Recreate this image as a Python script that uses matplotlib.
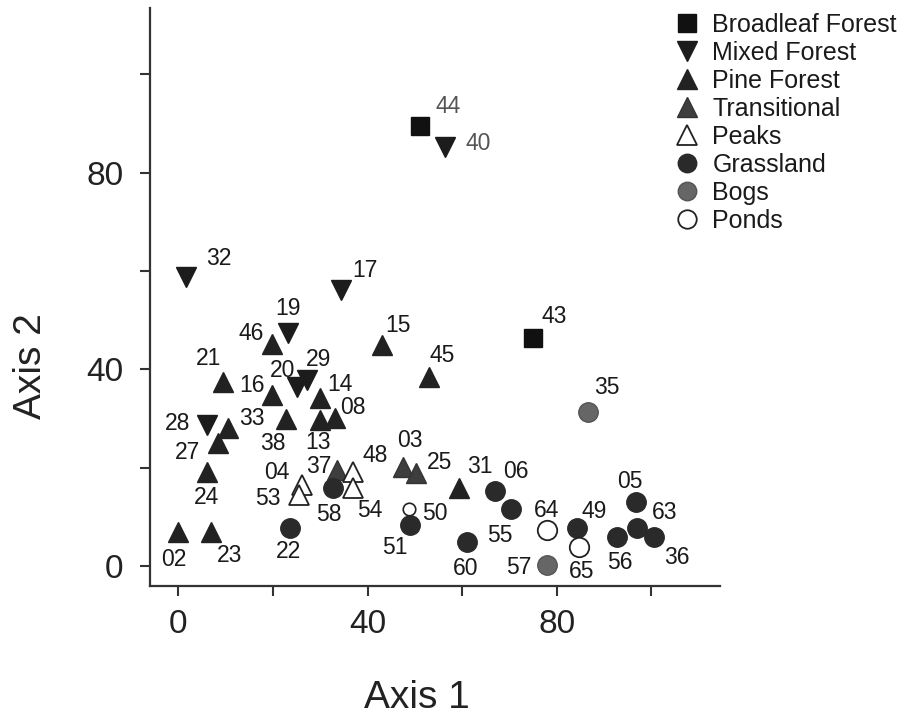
import matplotlib.pyplot as plt
from matplotlib.lines import Line2D

plt.rcParams['font.family'] = ['Liberation Sans', 'DejaVu Sans']

# site ids, ordination scores and habitat class
sites = ["44", "43", "40", "32", "17", "19", "20", "29", "28",
         "46", "15", "45", "21", "16", "14", "08", "13", "38", "33", "27", "24", "02", "23", "31",
         "37", "03", "25",
         "04", "53", "48", "54",
         "22", "58", "51", "06", "55", "60", "49", "05", "63", "56", "36",
         "35", "57", "50",
         "64", "65"]
axis1 = [51.1, 75.0, 56.4, 1.7, 34.3, 23.1, 25.0, 27.3, 6.1,
         19.9, 43.0, 53.0, 9.5, 19.9, 29.9, 33.1, 29.9, 22.7, 10.4, 8.3, 6.1, 0.0, 6.8, 59.3,
         33.5, 47.5, 50.2,
         26.1, 25.4, 36.9, 36.9,
         23.7, 32.6, 48.9, 67.0, 70.3, 61.0, 84.3, 96.8, 97.0, 92.8, 100.6,
         86.7, 78.0, 48.7,
         78.0, 84.7]
axis2 = [89.4, 46.3, 85.2, 58.7, 56.1, 47.4, 36.4, 37.8, 28.7,
         45.1, 44.9, 38.4, 37.4, 34.8, 34.1, 30.1, 29.7, 29.9, 28.0, 25.0, 19.1, 6.9, 6.9, 15.9,
         19.5, 20.1, 18.9,
         16.5, 14.4, 19.1, 15.9,
         7.7, 15.9, 8.3, 15.2, 11.6, 4.9, 7.7, 13.0, 7.7, 5.9, 5.9,
         31.3, 0.2, 11.6,
         7.3, 3.9]
habitat = ["Broadleaf Forest"] * 2 + ["Mixed Forest"] * 7 + ["Pine Forest"] * 15 + \
          ["Transitional"] * 3 + ["Peaks"] * 4 + ["Grassland"] * 11 + ["Bogs"] * 3 + ["Ponds"] * 2

# marker style for every habitat
styles = {
    "Broadleaf Forest": dict(marker="s", mfc="#111111", mec="#111111", ms=13.5),
    "Mixed Forest": dict(marker="v", mfc="#1c1c1c", mec="#1c1c1c", ms=15),
    "Pine Forest": dict(marker="^", mfc="#222222", mec="#222222", ms=15),
    "Transitional": dict(marker="^", mfc="#3e3e3e", mec="#333333", ms=15),
    "Peaks": dict(marker="^", mfc="white", mec="#222222", ms=15, mew=1.3),
    "Grassland": dict(marker="o", mfc="#2a2a2a", mec="#2a2a2a", ms=14),
    "Bogs": dict(marker="o", mfc="#666666", mec="#555555", ms=14),
    "Ponds": dict(marker="o", mfc="white", mec="#222222", ms=14, mew=1.3),
}

# label offsets in pixels (dx right, dy down)
offsets = {
    "44": (28, -20), "40": (33, -4), "32": (32, -19), "17": (24, -20), "19": (0, -25),
    "46": (-21, -11), "15": (16, -20), "43": (21, -22), "45": (13, -22), "21": (-15, -24),
    "20": (-14, -17), "29": (11, -21), "16": (-20, -10), "14": (20, -14), "08": (18, -11),
    "13": (-2, 22), "38": (-13, 24), "33": (24, -10), "28": (-30, -2), "27": (-30, 9),
    "24": (-1, 25), "02": (-5, 27), "23": (19, 23), "22": (-2, 23), "04": (-25, -13),
    "53": (-31, 3), "37": (-18, -4), "58": (-4, 27), "48": (22, -17), "54": (17, 23),
    "03": (7, -27), "25": (24, -11), "50": (26, 4), "51": (-15, 22), "35": (18, -25),
    "31": (21, -21), "06": (21, -20), "55": (-11, 26), "60": (-1, 26), "64": (-1, -20),
    "57": (-29, 2), "49": (17, -17), "65": (3, 24), "05": (-6, -21), "63": (27, -16),
    "56": (3, 25), "36": (23, 20),
}

fig = plt.figure(figsize=(9.09, 7.18), dpi=100)
ax = fig.add_axes([0.165, 0.184, 0.627, 0.805])

for s, x, y, h in zip(sites, axis1, axis2, habitat):
    st = dict(styles[h])
    if s == "50":
        st.update(ms=9, mfc="white", mec="#222222", mew=1.2)
    ax.plot(x, y, linestyle="none", zorder=3, **st)
    dx, dy = offsets[s]
    col = "#555555" if s in ("44", "40") else "#1a1a1a"
    ax.annotate(s, (x, y), xytext=(dx * 0.72, -dy * 0.72), textcoords="offset points",
                ha="center", va="center", fontsize=16.5, color=col)

ax.set_xlim(-6, 114.5)
ax.set_ylim(-4, 113.5)
ax.set_xticks([0, 40, 80])
ax.set_xticks([20, 60, 100], minor=True)
ax.set_yticks([0, 40, 80])
ax.set_yticks([20, 60, 100], minor=True)
for sp in ["top", "right"]:
    ax.spines[sp].set_visible(False)
for sp in ["left", "bottom"]:
    ax.spines[sp].set_linewidth(1.6)
    ax.spines[sp].set_color("#333333")
ax.tick_params(which="both", direction="out", length=7, width=1.5, color="#333333")
ax.tick_params(axis="y", labelsize=24, pad=12, labelcolor="#222222")
ax.tick_params(axis="x", labelsize=24, pad=10, labelcolor="#222222")
ax.set_xlabel("Axis 1", fontsize=28, color="#222222")
ax.set_ylabel("Axis 2", fontsize=28, color="#222222")
ax.xaxis.set_label_coords(0.468, -0.162)
ax.yaxis.set_label_coords(-0.178, 0.38)

handles = []
for name in styles:
    st = dict(styles[name])
    st["ms"] = st["ms"] * 0.95
    handles.append(Line2D([], [], linestyle="none", label=name, **st))
fig.legend(handles=handles, loc="upper left", bbox_to_anchor=(674 / 909, 1 - 13 / 718),
           frameon=False, fontsize=18, handletextpad=0.54, labelspacing=0.16,
           handlelength=1.0, borderaxespad=0, borderpad=0, labelcolor="#1a1a1a")

fig.savefig("out.png", dpi=100)
